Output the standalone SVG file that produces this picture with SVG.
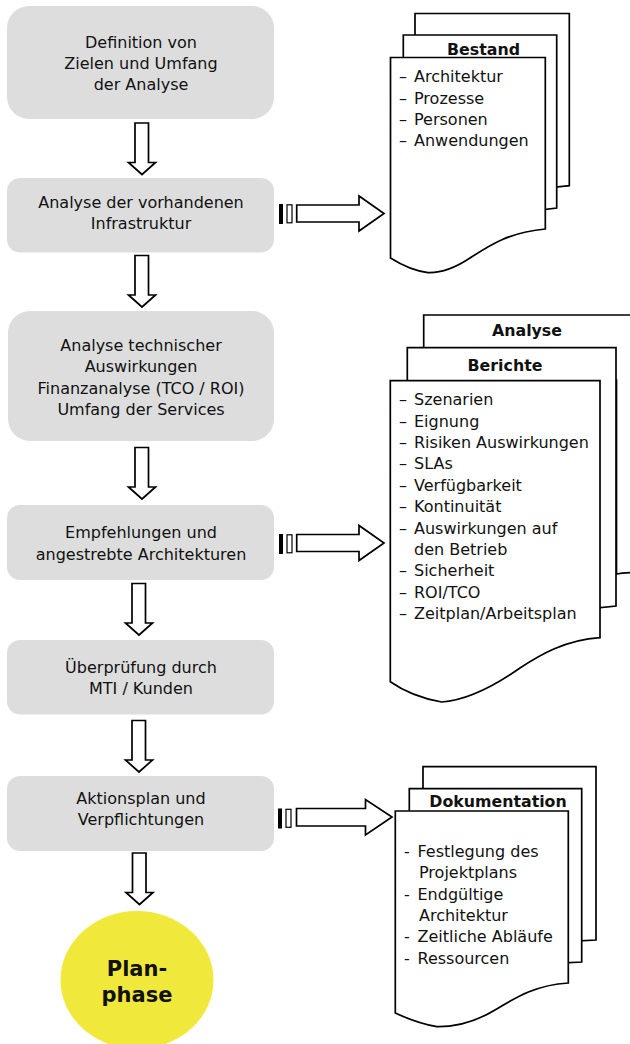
<svg xmlns="http://www.w3.org/2000/svg" width="630" height="1044" viewBox="0 0 630 1044">
<style>
text{font-family:"DejaVu Sans",Verdana,sans-serif;font-size:16px;fill:#111}
.c{text-anchor:middle}
.b{font-weight:bold;font-size:15.800px}
.p{font-weight:bold;font-size:21px}
.box{fill:#dddddd}
.ln{fill:#fff;stroke:#000;stroke-width:1.7;stroke-linejoin:miter}
</style>
<defs>
<path id="down" class="ln" d="M135 123H148.500V162.500H155.500L142 174.500L128.500 162.500H135Z"/>
<path id="right" class="ln" d="M296.700 205H359V196L384 213.500L359 231V222H296.700Z"/>
<g id="tick"><rect x="279" y="204" width="4" height="20" fill="#000"/><rect x="287" y="204.800" width="5" height="18" fill="#fff" stroke="#000" stroke-width="1.200"/></g>
</defs>
<g id="n1"><rect class="box" x="7" y="6" width="267" height="113" rx="22"/><text class="c" x="141" y="48">Definition von</text><text class="c" x="141" y="69">Zielen und Umfang</text><text class="c" x="141" y="90">der Analyse</text></g>
<g id="n2"><rect class="box" x="7" y="178" width="267" height="74.500" rx="13"/><text class="c" x="141" y="208">Analyse der vorhandenen</text><text class="c" x="141" y="229">Infrastruktur</text></g>
<g id="n3"><rect class="box" x="8" y="311" width="266" height="130" rx="22"/><text class="c" x="141" y="351">Analyse technischer</text><text class="c" x="141" y="372">Auswirkungen</text><text class="c" x="141" y="394">Finanzanalyse (TCO / ROI)</text><text class="c" x="141" y="415">Umfang der Services</text></g>
<g id="n4"><rect class="box" x="7" y="505" width="267" height="75" rx="13"/><text class="c" x="141" y="538">Empfehlungen und</text><text class="c" x="141" y="560">angestrebte Architekturen</text></g>
<g id="n5"><rect class="box" x="7" y="640" width="267" height="74.500" rx="13"/><text class="c" x="141" y="673">Überprüfung durch</text><text class="c" x="141" y="694">MTI / Kunden</text></g>
<g id="n6"><rect class="box" x="7" y="776" width="267" height="75" rx="13"/><text class="c" x="141" y="804">Aktionsplan und</text><text class="c" x="141" y="825">Verpflichtungen</text></g>
<g id="n7"><ellipse cx="137" cy="980" rx="76.500" ry="69" fill="#f0e93c"/><text class="c p" x="137" y="976">Plan-</text><text class="c p" x="137" y="1002">phase</text></g>
<g id="connectors">
<use href="#down"/>
<use href="#down" y="132.500"/>
<use href="#down" y="324.500"/>
<use href="#down" x="-3" y="460.500"/>
<use href="#down" x="-3" y="597.500"/>
<use href="#down" x="-2.500" y="730"/>
<use href="#tick"/><use href="#right"/>
<use href="#tick" y="330"/><use href="#right" y="329.500"/>
<use href="#tick" x="-1" y="604.500"/>
<path class="ln" d="M296.500 808.500H365.500V799.500L392 817L365.500 835V826H296.500Z"/>
</g>
<g id="doc1">
<path class="ln" d="M415 13.500H569.300V185.700L556 187V100H415Z"/>
<path class="ln" d="M403.300 35H556.700V208L540 210V100H403.300Z"/>
<path class="ln" d="M390.500 57.500H545.300V229C510 232 490 245 470 258C455 268 440 273 428 272.600C415 271 400 264 390.500 258Z"/>
<text class="c b" x="483.500" y="55">Bestand</text>
<text x="399" y="82">– <tspan x="414">Architektur</tspan></text><text x="399" y="104">– <tspan x="414">Prozesse</tspan></text><text x="399" y="125">– <tspan x="414">Personen</tspan></text><text x="399" y="146">– <tspan x="414">Anwendungen</tspan></text>
</g>
<g id="doc2">
<path class="ln" d="M423.700 380V315H632V572.700C626 572.700 621 573 616.500 574V380Z"/>
<path class="ln" d="M407.300 400V347.700H616V606L596 608V400Z"/>
<path class="ln" d="M390.300 380.700H600V637.700C565 640 540 655 520 668C500 682 470 700 441.700 702C425 699 405 692 390.300 681.700Z"/>
<text class="c b" x="527" y="336">Analyse</text>
<text class="c b" x="505" y="371">Berichte</text>
<text x="399" y="405">– <tspan x="414">Szenarien</tspan></text><text x="399" y="427">– <tspan x="414">Eignung</tspan></text><text x="399" y="448">– <tspan x="414">Risiken Auswirkungen</tspan></text><text x="399" y="469">– <tspan x="414">SLAs</tspan></text><text x="399" y="491">– <tspan x="414">Verfügbarkeit</tspan></text><text x="399" y="512">– <tspan x="414">Kontinuität</tspan></text><text x="399" y="534">– <tspan x="414">Auswirkungen auf</tspan></text><text x="414" y="555">den Betrieb</text><text x="399" y="576">– <tspan x="414">Sicherheit</tspan></text><text x="399" y="598">– <tspan x="414">ROI/TCO</tspan></text><text x="399" y="619">– <tspan x="414">Zeitplan/Arbeitsplan</tspan></text>
</g>
<g id="doc3">
<path class="ln" d="M423 830V766.700H596V940L575 941V830Z"/>
<path class="ln" d="M409.300 830V788.700H581.700V962L560 963V830Z"/>
<path class="ln" d="M395.300 811H568.300V983C535 985 515 998 495 1010C475 1022 455 1027 436.700 1026.700C422 1024 408 1019 395.300 1013Z"/>
<text class="c b" x="498" y="807">Dokumentation</text>
<text x="404" y="857">- <tspan x="417.500">Festlegung des</tspan></text><text x="419" y="878">Projektplans</text><text x="404" y="900">- <tspan x="417.500">Endgültige</tspan></text><text x="419" y="921">Architektur</text><text x="404" y="942">- <tspan x="417.500">Zeitliche Abläufe</tspan></text><text x="404" y="964">- <tspan x="417.500">Ressourcen</tspan></text>
</g>
</svg>
